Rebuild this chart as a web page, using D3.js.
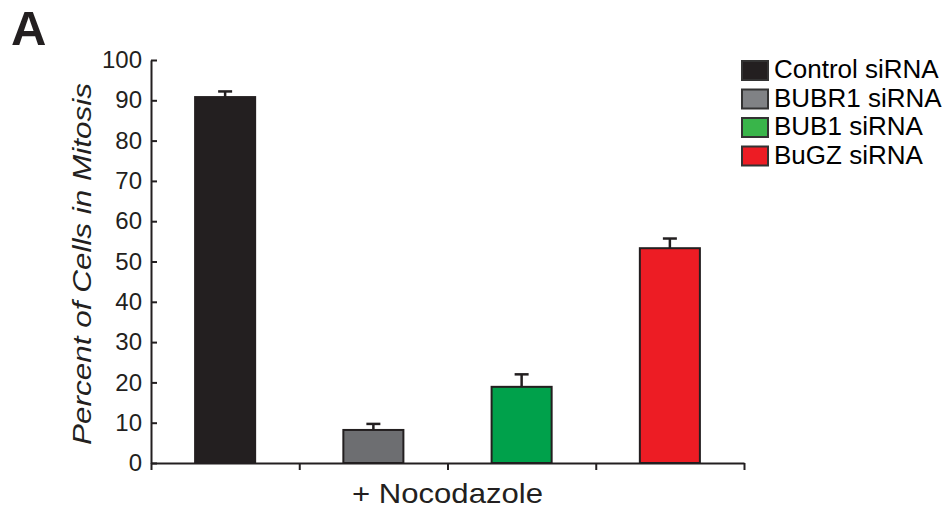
<!DOCTYPE html>
<html>
<head>
<meta charset="utf-8">
<script src="https://cdn.jsdelivr.net/npm/d3@7"></script>
<style>
  body { margin: 0; background: #fff; }
  svg { display: block; font-family: "Liberation Sans", Arial, Helvetica, sans-serif; }
</style>
</head>
<body>
<svg id="chart" width="951" height="510"></svg>
<script>
const categories = ["Control siRNA", "BUBR1 siRNA", "BUB1 siRNA", "BuGZ siRNA"];
const values = [90.8, 8.2, 18.9, 53.3];
const errors = [1.4, 1.5, 3.1, 2.4];
const barColors = ["#231f20", "#6d6e71", "#00a14b", "#ed1c24"];
const legendColors = ["#231f20", "#808285", "#39b54a", "#ed1c24"];
const yTicks = [0, 10, 20, 30, 40, 50, 60, 70, 80, 90, 100];
const xLabel = "+ Nocodazole";
const yLabel = "Percent of Cells in Mitosis";
const panelLabel = "A";

const svg = d3.select("#chart");
const pLeft = 151, pRight = 744, pTop = 60, pBottom = 463;

const x = d3.scaleBand().domain(categories).range([pLeft, pRight])
  .paddingInner(0.595).paddingOuter(0.2975);
const y = d3.scaleLinear().domain([0, 100]).range([pBottom, pTop]);
const xb = d3.scaleLinear().domain([0, categories.length]).range([pLeft, pRight]);

// bars
svg.append("g").selectAll("rect").data(categories).join("rect")
  .attr("x", d => x(d))
  .attr("y", (d, i) => y(values[i]))
  .attr("width", x.bandwidth())
  .attr("height", (d, i) => y(0) - y(values[i]))
  .attr("fill", (d, i) => barColors[i])
  .attr("stroke", "#231f20")
  .attr("stroke-width", 2);

// error bars
const eg = svg.append("g").attr("stroke", "#231f20").attr("stroke-width", 2.5);
categories.forEach((c, i) => {
  const cx = x(c) + x.bandwidth() / 2;
  eg.append("line").attr("x1", cx).attr("x2", cx)
    .attr("y1", y(values[i])).attr("y2", y(values[i] + errors[i]));
  eg.append("line").attr("x1", cx - 7).attr("x2", cx + 7)
    .attr("y1", y(values[i] + errors[i])).attr("y2", y(values[i] + errors[i]));
});

// y axis
const yAxis = svg.append("g").attr("transform", `translate(${pLeft},0)`)
  .call(d3.axisLeft(y).tickValues(yTicks).tickSizeInner(-6).tickSizeOuter(0).tickPadding(9));
yAxis.selectAll("path, line").attr("stroke", "#231f20").attr("stroke-width", 2);
yAxis.selectAll("text").attr("font-size", 24).attr("fill", "#231f20")
  .attr("font-family", "Liberation Sans, Arial, sans-serif");

// x axis
const xAxis = svg.append("g").attr("transform", `translate(0,${pBottom})`)
  .call(d3.axisBottom(xb).tickValues(d3.range(categories.length + 1)).tickFormat("")
    .tickSizeInner(7).tickSizeOuter(0));
xAxis.selectAll("path, line").attr("stroke", "#231f20").attr("stroke-width", 2);

// axis labels
svg.append("text").attr("x", (pLeft + pRight) / 2).attr("y", 503)
  .attr("text-anchor", "middle").attr("font-size", 28).attr("fill", "#231f20")
  .attr("textLength", 191).attr("lengthAdjust", "spacingAndGlyphs")
  .text(xLabel);

svg.append("text").attr("transform", "translate(91,264) rotate(-90)")
  .attr("text-anchor", "middle").attr("font-size", 25).attr("font-style", "italic")
  .attr("fill", "#231f20")
  .attr("textLength", 362).attr("lengthAdjust", "spacingAndGlyphs")
  .text(yLabel);

svg.append("text").attr("x", 11).attr("y", 45).attr("font-size", 49)
  .attr("font-weight", "bold").attr("fill", "#231f20").text(panelLabel);

// legend
const lg = svg.append("g");
categories.forEach((c, i) => {
  const yy = 61 + i * 28.5;
  lg.append("rect").attr("x", 742).attr("y", yy).attr("width", 26).attr("height", 19)
    .attr("fill", legendColors[i]).attr("stroke", "#333").attr("stroke-width", 2);
  lg.append("text").attr("x", 774).attr("y", yy + 17).attr("font-size", 26)
    .attr("fill", "#000").text(c);
});
</script>
</body>
</html>
